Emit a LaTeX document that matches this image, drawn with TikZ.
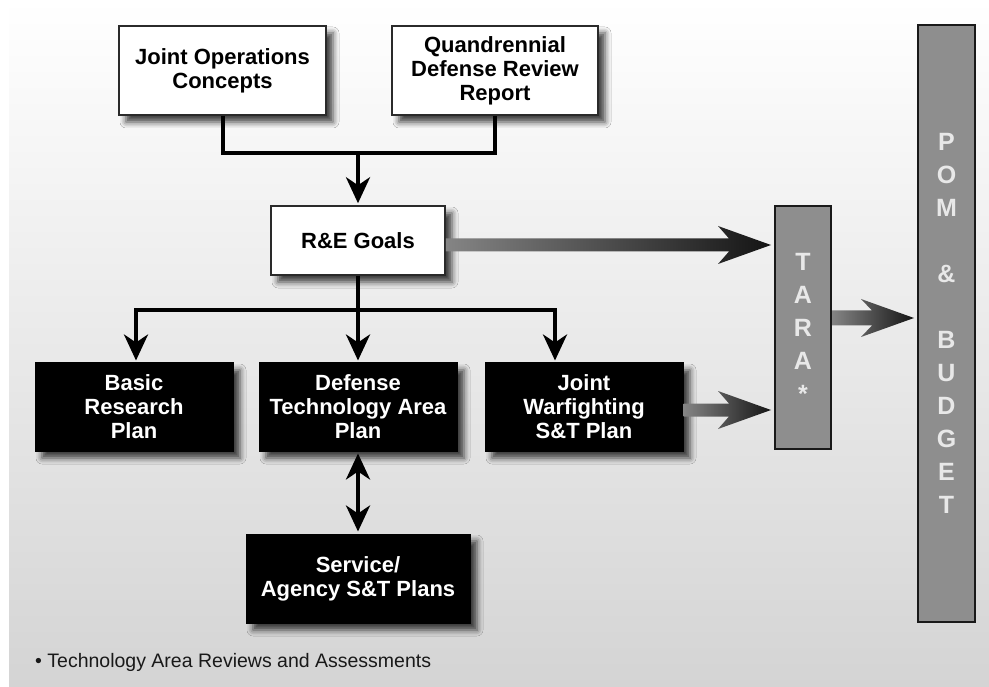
\documentclass[tikz,border=0pt]{standalone}
\usepackage{fontspec}
\setmainfont{Liberation Sans}
\usetikzlibrary{arrows.meta,calc,shadows.blur}
\definecolor{bxborder}{HTML}{2A2A2A}
\definecolor{barfill}{HTML}{8E8E8E}
\definecolor{barletter}{HTML}{E8E8E8}
\definecolor{bgbottom}{HTML}{D4D4D4}
\newcommand\fatarrow[3]{%
 \shade[left color=black!48, right color=black!92]
 let \p1=#1, \p2=#2 in
 (\x1,\y1+#3) -- (\x2-42pt,\y1+#3) -- (\x2-53pt,\y1+19pt) -- (\x2,\y1) --
 (\x2-53pt,\y1-19pt) -- (\x2-42pt,\y1-#3) -- (\x1,\y1-#3) -- cycle;}
\begin{document}
\begin{tikzpicture}[x=1pt,y=-1pt,
 base/.style={font=\bfseries\fontsize{22}{24}\selectfont, align=center, inner sep=0pt},
 myshadow/.style={blur shadow={shadow xshift=7pt, shadow yshift=-7pt, shadow blur radius=6pt, shadow opacity=75}},
 whitebox/.style={base, draw=bxborder, line width=1.5pt, fill=white, myshadow},
 blackbox/.style={base, draw=black, line width=1pt, fill=black, text=white, myshadow},
 bar/.style={draw=black!90, line width=2pt, fill=barfill, text=barletter,
   font=\bfseries\fontsize{25}{33}\selectfont, align=center, inner sep=0pt},
 conn/.style={line width=4pt, draw=black},
 arr/.style={conn, -{Stealth[length=26pt,width=24pt,inset=8pt]}, shorten >=2pt},
 darr/.style={conn, {Stealth[length=26pt,width=24pt,inset=8pt]}-{Stealth[length=26pt,width=24pt,inset=8pt]}, shorten >=2pt, shorten <=2pt},
]
\fill[white] (0,0) rectangle (989,687);
\shade[top color=white, bottom color=bgbottom] (9,0) rectangle (989,687);
\useasboundingbox (0,0) rectangle (989,687);

\node[whitebox, minimum width=207pt, minimum height=89pt] (joc) at (222.5,70.5) {Joint Operations\\Concepts};
\node[whitebox, minimum width=206pt, minimum height=89pt] (qdr) at (495,70.5) {Quandrennial\\Defense Review\\Report};
\node[whitebox, minimum width=174pt, minimum height=69pt] (re) at (358,240.5) {R\&E Goals};
\node[blackbox, minimum width=198pt, minimum height=88pt] (brp) at (134,407) {Basic\\Research\\Plan};
\node[blackbox, minimum width=198pt, minimum height=88pt] (dtap) at (358,407) {Defense\\Technology Area\\Plan};
\node[blackbox, minimum width=198pt, minimum height=88pt] (jw) at (584,407) {Joint\\Warfighting\\S\&T Plan};
\node[blackbox, minimum width=224pt, minimum height=89pt] (sa) at (358,578.5) {Service/\\Agency S\&T Plans};
\node[bar, minimum width=56pt, minimum height=243pt] (tara) at (803,327.5) {T\\A\\R\\A\\*};
\node[bar, minimum width=57pt, minimum height=597pt] (pom) at (946.5,323.5) {P\\O\\M\\[33pt]\&\\[33pt]B\\U\\D\\G\\E\\T};

\coordinate (m1) at (358,153);
\coordinate (m2) at (358,310);
\draw[conn] (joc.south) |- (m1) -| (qdr.south);
\draw[arr] (m1) -- (re.north);
\draw[conn] (re.south) -- (m2);
\draw[arr] (m2) -- (dtap.north);
\draw[arr] (m2) -| ([xshift=2pt]brp.north);
\draw[arr] (m2) -| ([xshift=-29pt]jw.north);
\draw[darr] (dtap.south) -- (sa.north);

\fatarrow{([yshift=-4.5pt]re.east)}{([xshift=-3pt]tara.west)}{6.5pt}
\fatarrow{([yshift=-3pt]jw.east)}{([xshift=-3pt]tara.west)}{6.5pt}
\fatarrow{([yshift=9.5pt]tara.east)}{([xshift=-3pt]pom.west)}{7.5pt}

\node[anchor=west, font=\fontsize{19.5}{22}\selectfont, text=black!90, inner sep=0pt] (fn) at (35,662) {• Technology Area Reviews and Assessments};
\end{tikzpicture}
\end{document}
